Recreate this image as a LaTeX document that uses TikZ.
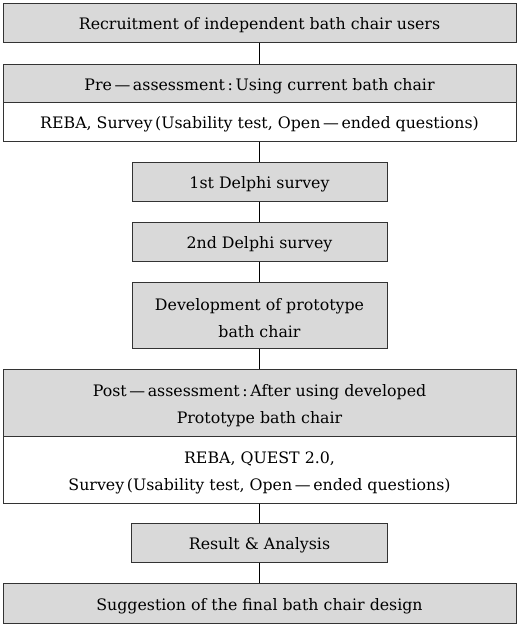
\documentclass[tikz,border=0pt]{standalone}
\usepackage{fontspec}
\setmainfont{DejaVu Serif}
\begin{document}
\begin{tikzpicture}[x=1pt,y=-1pt,
  lab/.style={inner sep=0pt,align=center,yshift=-3pt,font=\fontsize{15.8}{27}\selectfont},
  box/.style={draw=black!80,line width=1pt,inner sep=0pt},
  gbox/.style={box,fill=black!15},
  wbox/.style={box,fill=white},
  conn/.style={draw=black,line width=1.2pt}]
\useasboundingbox (0,0) rectangle (519,632);
\node[gbox,minimum width=513,minimum height=39,label={[lab]center:Recruitment of independent bath chair users}] (rec) at (259.5,22.5) {};
\node[gbox,minimum width=513,minimum height=38,label={[lab]center:Pre\,—\,assessment\,:\,Using current bath chair}] (pre) at (259.5,83) {};
\node[wbox,minimum width=513,minimum height=39,label={[lab]center:REBA, Survey\,(Usability test, Open\,—\,ended questions)}] (prem) at (259.5,121.5) {};
\node[gbox,minimum width=255,minimum height=39,label={[lab]center:1st Delphi survey}] (d1) at (259.5,181.5) {};
\node[gbox,minimum width=255,minimum height=39,label={[lab]center:2nd Delphi survey}] (d2) at (259.5,241.5) {};
\node[gbox,minimum width=255,minimum height=66,label={[lab]center:{Development of prototype\\bath chair}}] (dev) at (259.5,315) {};
\node[gbox,minimum width=513,minimum height=67,label={[lab]center:{Post\,—\,assessment\,:\,After using developed\\Prototype bath chair}}] (post) at (259.5,402.5) {};
\node[wbox,minimum width=513,minimum height=67,label={[lab]center:{REBA, QUEST 2.0,\\Survey\,(Usability test, Open\,—\,ended questions)}}] (postm) at (259.5,469.5) {};
\node[gbox,minimum width=256,minimum height=39,label={[lab]center:Result \& Analysis}] (res) at (259.5,542.5) {};
\node[gbox,minimum width=513,minimum height=40,label={[lab]center:Suggestion of the final bath chair design}] (sug) at (259.5,603) {};
\draw[conn] (rec) -- (pre);
\draw[conn] (prem) -- (d1);
\draw[conn] (d1) -- (d2);
\draw[conn] (d2) -- (dev);
\draw[conn] (dev) -- (post);
\draw[conn] (postm) -- (res);
\draw[conn] (res) -- (sug);
\end{tikzpicture}
\end{document}
